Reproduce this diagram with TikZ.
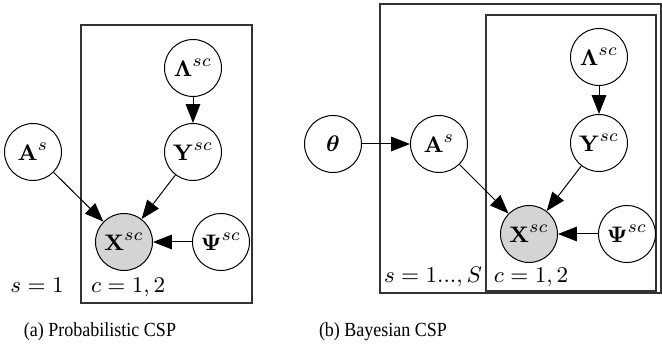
\documentclass[tikz,border=0pt]{standalone}
\usepackage{amsmath}
\usepackage[no-math]{fontspec}
\newfontfamily\capfont{Liberation Serif}[FakeStretch=0.9]
\usetikzlibrary{arrows.meta}

\begin{document}
\begin{tikzpicture}[x=0.4pt, y=0.4pt, >={Triangle[length=7.5pt, width=5.8pt]},
    every node/.style={font=\fontsize{9.5}{11}\selectfont},
    latent/.style={circle, draw, line width=0.4pt, minimum size=22.8pt, inner sep=0pt},
    observed/.style={latent, fill=black!17},
    plate/.style={draw=black!80, line width=0.5pt},
    edge/.style={->, line width=0.4pt},
    caption/.style={anchor=base, font=\capfont\fontsize{8}{10}\selectfont}]

    \useasboundingbox (0, 0) rectangle (662, 347);

    % (a) 左のモデル
    \draw[plate] (81, 44) rectangle (252, 322);
    \node[latent] (lamA) at (193, 279) {$\mathbf{\Lambda}^{sc}$};
    \node[latent] (yA) at (193, 195) {$\mathbf{Y}^{sc}$};
    \node[latent] (aA) at (33, 195) {$\mathbf{A}^{s}$};
    \node[observed] (xA) at (124, 105) {$\mathbf{X}^{sc}$};
    \node[latent] (psiA) at (221, 105) {$\mathbf{\Psi}^{sc}$};
    \node[anchor=base] (sA) at (37, 54) {$s=1$};
    \node[anchor=base west, inner sep=1pt] (cA) at (88, 54) {$c=1,2$};

    \draw[edge] (lamA) -- (yA);
    \draw[edge] (yA) -- (xA);
    \draw[edge] (aA) -- (xA);
    \draw[edge] (psiA) -- (xA);

    % (b) 右のモデル (二重プレート)
    \draw[plate] (380, 54) rectangle (661, 343);
    \draw[plate] (486, 56) rectangle (656, 332);
    \node[latent] (theta) at (333, 203) {$\boldsymbol{\theta}$};
    \node[latent] (aB) at (439, 203) {$\mathbf{A}^{s}$};
    \node[latent] (lamB) at (599, 290) {$\mathbf{\Lambda}^{sc}$};
    \node[latent] (yB) at (599, 204) {$\mathbf{Y}^{sc}$};
    \node[observed] (xB) at (529, 113) {$\mathbf{X}^{sc}$};
    \node[latent] (psiB) at (627, 113) {$\mathbf{\Psi}^{sc}$};
    \node[anchor=base west, inner sep=1pt] (sB) at (381, 64) {$s=1...,S$};
    \node[anchor=base west, inner sep=1pt] (cB) at (491, 64) {$c=1,2$};

    \draw[edge] (theta) -- (aB);
    \draw[edge] (lamB) -- (yB);
    \draw[edge] (yB) -- (xB);
    \draw[edge] (aB) -- (xB);
    \draw[edge] (psiB) -- (xB);

    % キャプション
    \node[caption] (capA) at (100, 10) {(a) Probabilistic CSP};
    \node[caption] (capB) at (383, 10) {(b) Bayesian CSP};

\end{tikzpicture}
\end{document}
